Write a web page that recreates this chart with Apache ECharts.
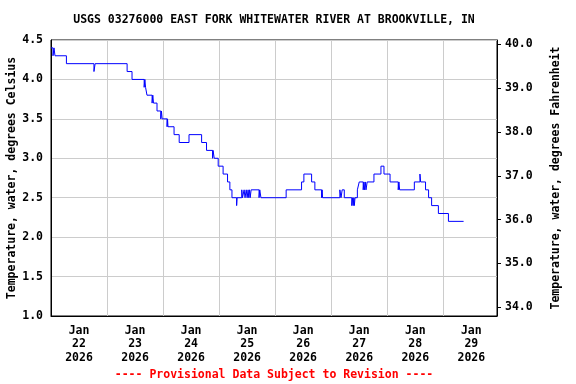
<!DOCTYPE html>
<html>
<head>
<meta charset="utf-8">
<script src="https://cdn.jsdelivr.net/npm/echarts@6/dist/echarts.min.js"></script>
<style>
html,body{margin:0;padding:0;background:#fff;}
#c{width:576px;height:384px;}
</style>
</head>
<body>
<div id="c"></div>
<script>
// Hours since 2026-01-22 00:00 (local) at which the reading changes
var hours = [0,0.86,1.29,1.71,6.6,18.4,18.9,32.6,34.7,39.9,40.2,40.5,41.1,43.3,43.6,43.9,45.4,47.0,47.3,47.6,
  49.7,49.9,50.1,52.7,54.9,59.1,64.5,66.6,69.2,69.4,69.9,71.6,73.7,75.6,76.6,77.5,79.5,79.7,81.7,82.0,
  82.7,83.1,83.6,84.0,84.4,84.7,85.0,85.3,85.7,89.1,89.4,89.9,100.7,107.3,108.3,111.6,113.0,115.9,116.1,116.3,
  123.7,124.2,124.7,125.6,128.8,129.2,129.4,129.7,129.9,130.2,131.2,132.0,133.7,134.0,134.3,134.6,134.9,135.4,138.3,141.3,
  142.6,145.2,148.7,149.0,149.3,155.6,158.0,158.3,160.4,161.7,163.0,165.9,170.2,176.7];
// Water temperature, degrees Celsius
var tempC = [4.4,4.3,4.4,4.3,4.2,4.1,4.2,4.1,4.0,3.9,4.0,3.9,3.8,3.7,3.8,3.7,3.6,3.5,3.6,3.5,
  3.4,3.5,3.4,3.3,3.2,3.3,3.2,3.1,3.0,3.1,3.0,2.9,2.8,2.7,2.6,2.5,2.4,2.5,2.6,2.5,
  2.6,2.5,2.6,2.5,2.6,2.5,2.6,2.5,2.6,2.5,2.6,2.5,2.6,2.7,2.8,2.7,2.6,2.5,2.6,2.5,
  2.6,2.5,2.6,2.5,2.4,2.5,2.4,2.5,2.4,2.5,2.6,2.7,2.6,2.7,2.6,2.7,2.6,2.7,2.8,2.9,
  2.8,2.7,2.6,2.7,2.6,2.7,2.8,2.7,2.6,2.5,2.4,2.3,2.2,2.2];
var dayLabels = ['Jan\n22\n2026','Jan\n23\n2026','Jan\n24\n2026','Jan\n25\n2026','Jan\n26\n2026','Jan\n27\n2026','Jan\n28\n2026','Jan\n29\n2026'];
var dayCenters = [12,36,60,84,108,132,156,180];
var celsiusTicks = [1.0,1.5,2.0,2.5,3.0,3.5,4.0,4.5];
var fahrenheitTicks = [34,35,36,37,38,39,40];
var titleText = 'USGS 03276000 EAST FORK WHITEWATER RIVER AT BROOKVILLE, IN';
var footerText = '---- Provisional Data Subject to Revision ----';

var FONT = '"DejaVu Sans Mono", monospace';
var cMin = 1.0, cMax = 4.5;
var chart = echarts.init(document.getElementById('c'), null, {renderer:'canvas'});
var data = hours.map(function(h,i){return [h,tempC[i]];});
var txt = {fontFamily:FONT,fontWeight:'bold',fontSize:11.5,color:'#000'};
chart.setOption({
  animation:false,
  backgroundColor:'#fff',
  grid:{left:51,right:79,top:40,bottom:68,show:true,borderColor:'#000',borderWidth:1,backgroundColor:'transparent',
        containLabel:false,outerBoundsMode:'none'},
  graphic:[
    {type:'text',x:274,y:20,style:{text:titleText,textAlign:'center',textVerticalAlign:'middle',fill:'#000',font:'bold 11.5px '+FONT}},
    {type:'text',x:274,y:375,style:{text:footerText,textAlign:'center',textVerticalAlign:'middle',fill:'#ff0000',font:'bold 11.5px '+FONT}}
  ],
  xAxis:[
    {type:'value',min:0,max:191,interval:24,position:'bottom',
     axisLine:{show:true,onZero:false,lineStyle:{color:'#000',width:1}},axisTick:{show:false},axisLabel:{show:false},
     splitLine:{show:true,lineStyle:{color:'#cccccc',width:1}}},
    {type:'value',min:0,max:191,position:'bottom',
     axisLine:{show:false,onZero:false},axisTick:{show:false},splitLine:{show:false},
     axisLabel:Object.assign({show:true,customValues:dayCenters,margin:8,lineHeight:13.5,align:'center',
       formatter:function(v){var i=dayCenters.indexOf(Math.round(v));return i>=0?dayLabels[i]:'';}},txt)}
  ],
  yAxis:[
    {type:'value',min:cMin,max:cMax,interval:0.5,position:'left',
     name:'Temperature, water, degrees Celsius',nameLocation:'middle',nameGap:33,nameMoveOverlap:false,
     nameTextStyle:txt,
     axisLine:{show:true,onZero:false,lineStyle:{color:'#000'}},axisTick:{show:false},
     axisLabel:Object.assign({margin:8,formatter:function(v){return v.toFixed(1);}},txt),
     splitLine:{show:true,lineStyle:{color:'#cccccc',width:1}}},
    {type:'value',min:cMin*1.8+32,max:cMax*1.8+32,position:'right',
     name:'Temperature, water, degrees Fahrenheit',nameLocation:'middle',nameGap:53,nameMoveOverlap:false,
     nameTextStyle:txt,
     axisLine:{show:true,onZero:false,lineStyle:{color:'#000'}},
     axisTick:{show:true,inside:false,customValues:fahrenheitTicks,length:4,lineStyle:{color:'#000'}},
     axisLabel:Object.assign({customValues:fahrenheitTicks,margin:8,formatter:function(v){return v.toFixed(1);}},txt),
     splitLine:{show:false}}
  ],
  series:[{type:'line',xAxisIndex:0,yAxisIndex:0,data:data,step:'end',showSymbol:false,symbol:'none',
    lineStyle:{color:'#0000ff',width:1},itemStyle:{color:'#0000ff'}}]
});
</script>
</body>
</html>
